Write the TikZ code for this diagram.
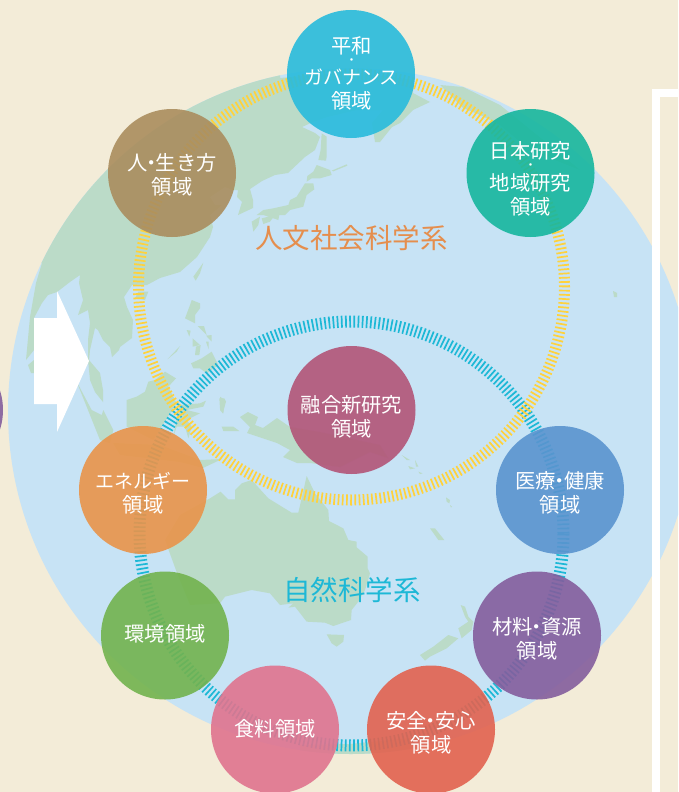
\documentclass[tikz,border=0pt]{standalone}
\usepackage{fontspec}
\setmainfont{Noto Sans CJK JP}
\definecolor{bgc}{HTML}{F3ECD8}
\definecolor{seac}{HTML}{C7E3F5}
\definecolor{landc}{HTML}{BBDBC8}
\definecolor{ringy}{HTML}{FFD23C}
\definecolor{ringc}{HTML}{1DB8D6}
\definecolor{ora}{HTML}{E58E4D}
\definecolor{cheiwa}{HTML}{28BBDC}
\definecolor{cnihon}{HTML}{16B69E}
\definecolor{chito}{HTML}{AA8D5E}
\definecolor{cyugo}{HTML}{B25477}
\definecolor{cene}{HTML}{E9944A}
\definecolor{ckan}{HTML}{72B34E}
\definecolor{cshoku}{HTML}{E0748E}
\definecolor{canzen}{HTML}{E2624F}
\definecolor{czai}{HTML}{845D9D}
\definecolor{ciryo}{HTML}{5A94CF}
\newcommand{\ndot}{\kern-.3em ・\kern-.3em }
\newcommand{\kana}{\fontsize{19}{24}\selectfont}
\tikzset{
  land/.style={fill=landc},
  z1/.style={x=.33333pt,y=-.33333pt},
  z5/.style={shift={(20,240)},z1},
  z6/.style={shift={(130,330)},z1},
  z7/.style={shift={(190,440)},z1},
  z8/.style={shift={(220,100)},z1},
  z10/.style={shift={(390,440)},z1},
  dom/.style={circle,minimum size=128pt,inner sep=0pt,fill opacity=.9,text opacity=1},
  lab/.style={text=white,align=center,font=\fontsize{20.3}{24}\selectfont,inner sep=0pt},
  dotlab/.style={text=white,font=\fontsize{12}{12}\selectfont,inner sep=0pt},
  sys/.style={font=\fontsize{27.5}{30}\selectfont,inner sep=0pt}
}
\begin{document}
\begin{tikzpicture}[x=1pt,y=-1pt]
\useasboundingbox (0,0) rectangle (678,792);
\clip (0,0) rectangle (678,792);
\fill[bgc] (0,0) rectangle (678,792);
\fill[seac] (351,411) circle[radius=343pt];
\begin{scope}
\clip (351,411) circle[radius=343pt];
% Asia
\fill[land] (280,78)--(350,72)--(414,80)--(413,93)--(430,102)--(413,110)--(400,123)--(392,127)--(380,142)--(375,142)--(372,123)--(383,110)--(357,110)--(327,117)--(313,122)--(302,127)--(315,133)--(320,137)--(315,150)--(305,157)--(288,173)--(275,175)--(262,181)--(250,189)--(253,200)--(253,208)--(238,215)--(242,202)--(237,197)--(238,190)--(233,190)--(225,187)--(210,197)--(215,205)--(222,205)--(210,215)--(213,227)--(210,237)--(197,257)--(180,272)--(160,278)--(147,285)--(132,285)--(124,297)--(127,307)--(133,320)--(132,338)--(120,347)--(119,350)--(112,357)--(110,347)--(103,340)--(98,330)--(95,328)--(90,350)--(89,360)--(100,373)--(103,390)--(103,402)--(95,392)--(90,380)--(88,360)--(88,340)--(90,323)--(88,310)--(78,315)--(83,300)--(79,283)--(80,275)--(70,282)--(57,292)--(48,295)--(42,303)--(34,318)--(34,350)--(26,360)--(30,317)--(36,283)--(42,263)--(0,263)--(0,0)--(280,0)--cycle;
\fill[land] (28,365)--(34,360)--(34,373)--(31,373)--cycle;
% Alaska
\fill[land] (440,85)--(463,87)--(500,105)--(580,170)--(530,150)--(500,125)--(480,115)--(463,108)--cycle;
\begin{scope}[z5]
\fill[land] (170,425)--(215,510)--(245,525)--(250,510)--(280,570)--(270,610)--(240,600)--cycle; % Sumatra
\fill[land] (405,420)--(435,395)--(468,415)--(445,440)--(470,490)--(450,520)--(425,560)--(400,600)--(320,560)--(320,480)--(350,470)--(375,455)--(385,425)--cycle; % Borneo
\fill[land] (515,180)--(540,190)--(540,205)--(525,225)--(525,250)--(495,235)--(510,195)--cycle;
\fill[land] (500,270)--(512,272)--(508,290)--cycle;
\fill[land] (533,258)--(552,258)--(560,285)--cycle;
\fill[land] (518,295)--(540,315)--(518,320)--cycle;
\fill[land] (558,287)--(575,285)--(575,305)--cycle;
\fill[land] (528,320)--(542,315)--(538,345)--(525,345)--cycle;
\fill[land] (558,305)--(566,305)--(566,328)--cycle;
\fill[land] (442,358)--(480,318)--(470,335)--cycle;
\fill[land] (513,370)--(545,355)--(575,335)--(595,375)--(560,400)--(540,385)--(520,385)--cycle;
\fill[land] (345,175)--(355,155)--(385,155)--(375,180)--cycle;
\fill[land] (520,110)--(550,68)--(540,100)--(527,122)--cycle;
\fill[land] (600,470)--(615,480)--(610,520)--(600,510)--cycle;
\end{scope}
\begin{scope}[z6]
\fill[land] (145,240)--(150,225)--(210,220)--(228,212)--(220,230)--(170,240)--(210,250)--(170,270)--(185,290)--(175,325)--(165,290)--(140,290)--(130,320)--cycle; % Sulawesi
\fill[land] (275,290)--(310,290)--(328,303)--(280,303)--cycle;
\fill[land] (268,205)--(283,205)--(288,215)--(278,250)--(270,235)--cycle;
\end{scope}
% New Guinea
\fill[land] (240,417)--(248,412)--(258,417)--(255,425)--(263,428)--(277,418)--(290,427)--(320,432)--(380,445)--(388,458)--(370,452)--(340,467)--(310,463)--(297,463)--(283,457)--(290,450)--(277,443)--(247,433)--(250,427)--cycle;
% Java
\fill[land] (113,443)--(160,445)--(200,460)--(222,459)--(203,468)--(180,462)--(120,455)--cycle;
\begin{scope}[z7]
\fill[land] (350,108)--(375,160)--(415,210)--(417,243)--(460,265)--(475,300)--(500,305)--(500,322)--(533,350)--(533,385)--(540,400)--(525,450)--(505,485)--(485,510)--(483,540)--(430,558)--(405,548)--(350,545)--(315,500)--(295,503)--(310,490)--(270,495)--(240,460)--(185,450)--(105,470)--(90,490)--(0,495)--(-39,399)--(-75,300)--(-30,225)--(60,175)--(92,155)--(115,178)--(135,178)--(135,150)--(155,130)--(185,120)--(235,175)--(305,218)--(325,218)--(335,175)--cycle;
\fill[land] (410,583)--(462,585)--(460,605)--(440,620)--(425,610)--cycle;
\end{scope}
\begin{scope}[z8]
\fill[land] (290,195)--(330,210)--(335,225)--(300,235)--(275,235)--(260,245)--(262,228)--(280,215)--cycle;
\fill[land] (255,250)--(280,250)--(283,268)--(260,285)--(250,320)--(210,330)--(195,345)--(178,345)--(175,360)--(130,345)--(110,345)--(130,330)--(160,325)--(205,315)--(210,300)--(230,290)--cycle;
\fill[land] (95,365)--(120,350)--(115,375)--(100,395)--cycle;
\fill[land] (125,355)--(165,345)--(150,365)--(130,372)--cycle;
\fill[land] (305,100)--(320,110)--(320,170)--(318,182)--(295,180)--(302,150)--cycle;
\fill[land] (335,212)--(380,193)--(382,197)--(340,214)--cycle;
\end{scope}
\begin{scope}[z10]
\fill[land] (212,495)--(225,500)--(235,530)--(250,545)--(245,570)--(215,595)--(205,565)--(235,545)--(225,530)--cycle;
\fill[land] (90,645)--(130,620)--(175,585)--(205,595)--(170,625)--(120,650)--(105,662)--cycle;
\fill[land] (168,172)--(180,180)--(178,190)--(170,185)--cycle;
\fill[land] (180,195)--(186,200)--(183,203)--cycle;
\fill[land] (120,265)--(135,265)--(163,300)--(145,300)--cycle;
\fill[land] (35,45)--(60,60)--(50,60)--cycle;
\fill[land] (75,60)--(85,80)--(78,80)--cycle;
\fill[land] (55,78)--(75,85)--(60,88)--cycle;
\fill[land] (85,95)--(98,100)--(90,102)--cycle;
\end{scope}
\fill[land] (613,291)--(617,293)--(617,297)--(614,297)--cycle;
% Antarctica
\fill[land] (300,800)--(300,745)--(350,744)--(410,738)--(440,800)--cycle;
\end{scope}
% rings
\draw[ringc,line width=12pt,dash pattern=on 1.7pt off 2.47pt] (351.5,533.5) circle[radius=212pt];
\draw[ringy,line width=11pt,dash pattern=on 1.7pt off 2.495pt] (351.5,287) circle[radius=213pt];
% frame and arrow
\draw[white,line width=8pt] (656,830)--(656,93)--(720,93);
\fill[white] (34,318)--(57,318)--(57,291)--(89,361)--(57,432)--(57,404)--(34,404)--cycle;
% domains
\node[dom,fill=czai] (left) at (-61,410) {};
\node[dom,fill=cheiwa] (heiwa) at (351,74) {};
\node[dom,fill=cnihon] (nihon) at (530.5,173) {};
\node[dom,fill=chito] (hito) at (172,173) {};
\node[dom,fill=cyugo] (yugo) at (351.5,410) {};
\node[dom,fill=cene] (ene) at (143,490) {};
\node[dom,fill=ckan] (kan) at (165,635.5) {};
\node[dom,fill=cshoku] (shoku) at (275,729.5) {};
\node[dom,fill=canzen] (anzen) at (431,729.5) {};
\node[dom,fill=czai] (zai) at (537,635.5) {};
\node[dom,fill=ciryo] (iryo) at (560,490) {};
\node[lab] (theiwa1) at (351.5,46) {平和};
\node[dotlab] (theiwa2) at (351.5,62) {・};
\node[lab] (theiwa3) at (351.5,90) {{\kana ガバナンス}\\領域};
\node[lab] (tnihon1) at (530.5,151) {日本研究};
\node[dotlab] (tnihon2) at (530.5,167) {・};
\node[lab] (tnihon3) at (530.5,194.5) {地域研究\\領域};
\node[lab] (thito) at (172,175) {人\ndot 生き方\\領域};
\node[lab] (tyugo) at (351.5,417) {融合新研究\\領域};
\node[lab] (tene) at (143,493) {{\kana エネルギー}\\領域};
\node[lab] (tkan) at (165,634) {環境領域};
\node[lab] (tshoku) at (275,729) {食料領域};
\node[lab] (tanzen) at (431,733) {安全\ndot 安心\\領域};
\node[lab] (tzai) at (537,639) {材料\ndot 資源\\領域};
\node[lab] (tiryo) at (560,493) {医療\ndot 健康\\領域};
\node[sys,text=ora] (jin) at (351.5,238) {人文社会科学系};
\node[sys,text=ringc] (shi) at (352,590) {自然科学系};
\end{tikzpicture}
\end{document}
